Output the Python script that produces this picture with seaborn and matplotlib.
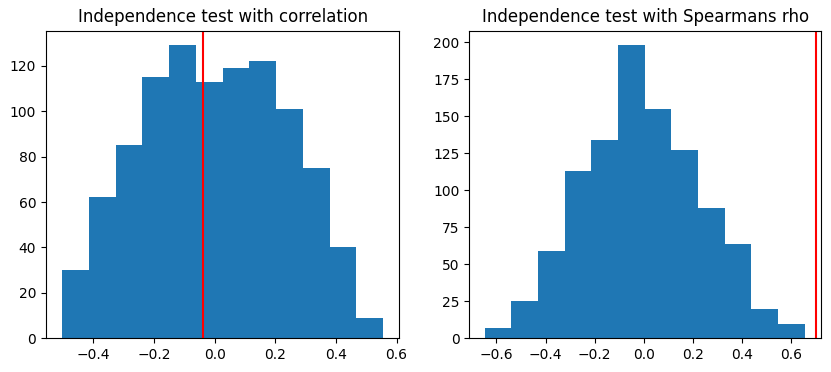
import numpy as np
import pandas as pd
import matplotlib
matplotlib.use('Agg')
import matplotlib.pyplot as plt
import seaborn as sns

# Histogram counts (1000 permutations each)
corr_counts = [30, 62, 85, 115, 129, 113, 119, 122, 101, 75, 40, 9]
corr_range = (-0.503, 0.556)
corr_observed = -0.039

rho_counts = [7, 25, 59, 113, 134, 198, 155, 127, 88, 64, 20, 10]
rho_range = (-0.647, 0.654)
rho_observed = 0.70

titles = ['Independence test with correlation', 'Independence test with Spearmans rho']


def draw_hist(ax, counts, rng, observed, title):
    edges = np.linspace(rng[0], rng[1], len(counts) + 1)
    df = pd.DataFrame({'value': (edges[:-1] + edges[1:]) / 2, 'count': counts})
    sns.histplot(data=df, x='value', weights='count', bins=len(counts),
                 binrange=rng, ax=ax, color='#1f77b4', alpha=1, linewidth=0)
    ax.axvline(observed, color='red')
    ax.set_title(title)
    ax.set_xlabel('')
    ax.set_ylabel('')


fig, axes = plt.subplots(1, 2, figsize=(8.31, 3.72), dpi=100)
fig.subplots_adjust(left=0.0554, right=0.988, bottom=0.0906, top=0.9175, wspace=0.2)

draw_hist(axes[0], corr_counts, corr_range, corr_observed, titles[0])
draw_hist(axes[1], rho_counts, rho_range, rho_observed, titles[1])
axes[1].set_xlim(-0.71, 0.72)

# place both axes where the reference has them
pos = axes[1].get_position()
axes[1].set_position([469.3 / 831, pos.y0, (821 - 469.3) / 831, pos.height])
pos = axes[0].get_position()
axes[0].set_position([46 / 831, pos.y0, (399.3 - 46) / 831, pos.height])

fig.savefig('out.png', dpi=100)
